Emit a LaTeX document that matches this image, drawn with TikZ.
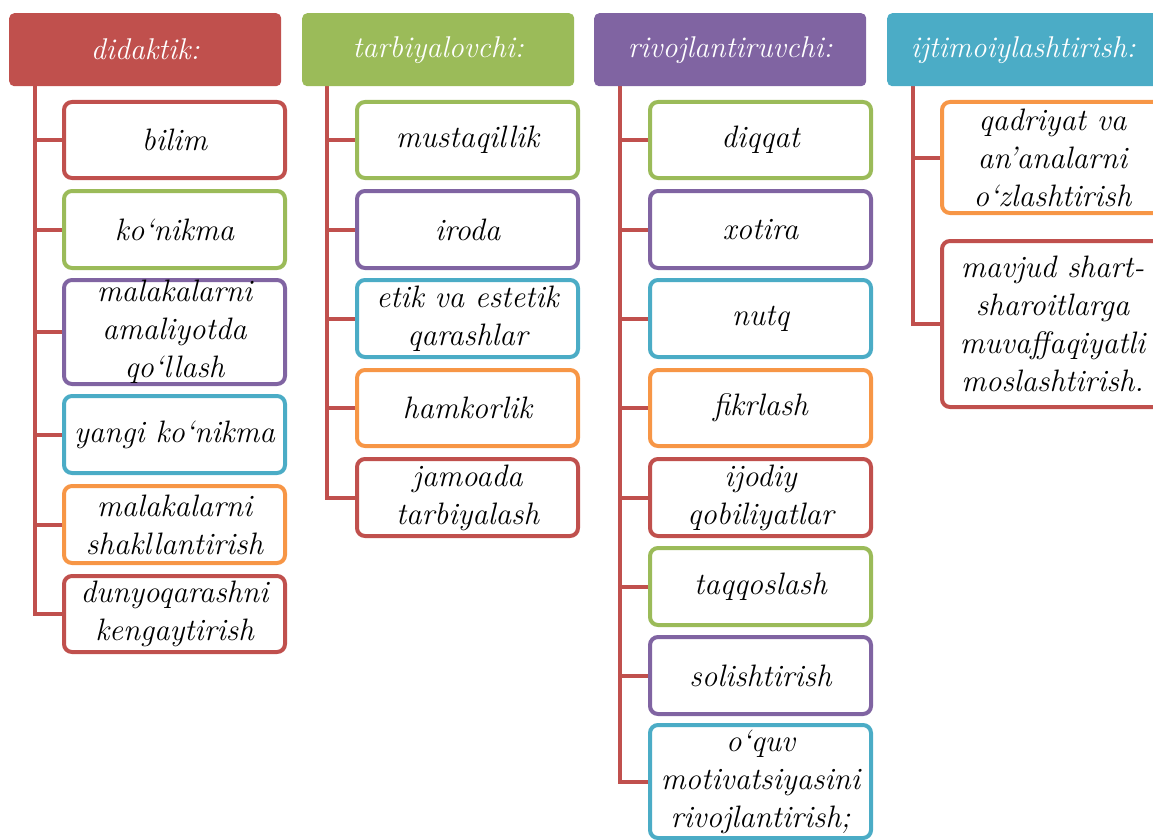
\documentclass[tikz,border=0pt]{standalone}
\usepackage{fontspec}
\usetikzlibrary{backgrounds}
\definecolor{cred}{HTML}{C0504D}
\definecolor{cgreen}{HTML}{9BBB59}
\definecolor{cpurple}{HTML}{8064A2}
\definecolor{caqua}{HTML}{4BACC6}
\definecolor{corange}{HTML}{F79646}
\begin{document}
\begin{tikzpicture}[x=1pt,y=-1pt,
  hdr/.style={fill=#1, rounded corners=5pt, text=white, font=\fontsize{30}{37}\selectfont\itshape,
    minimum width=272pt, minimum height=73pt, inner sep=0pt, anchor=north west},
  box/.style={draw=#1, line width=4pt, fill=white, rounded corners=8pt,
    font=\fontsize{31}{38}\selectfont\itshape, minimum width=221pt, inner sep=0pt,
    align=center, anchor=north west},
  conn/.style={draw=cred, line width=4pt}]
\useasboundingbox (0,0) rectangle (1153,840);
\clip (0,0) rectangle (1153,840);

% headers
\node[hdr=cred] (h1) at (9,13) {didaktik:};
\node[hdr=cgreen] (h2) at (302,13) {tarbiyalovchi:};
\node[hdr=cpurple] (h3) at (594,13) {rivojlantiruvchi:};
\node[hdr=caqua] (h4) at (887,13) {ijtimoiylashtirish:};

% connector tops
\coordinate (t1) at (35,86);
\coordinate (t2) at (327,86);
\coordinate (t3) at (620,86);
\coordinate (t4) at (913,86);

% column 1
\node[box=cred, minimum height=76pt] (a1) at (62,100) {bilim};
\node[box=cgreen, minimum height=77pt] (a2) at (62,189) {ko‘nikma};
\node[box=cpurple, minimum height=104pt] (a3) at (62,278) {malakalarni\\amaliyotda\\qo‘llash};
\node[box=caqua, minimum height=77pt] (a4) at (62,394) {yangi ko‘nikma};
\node[box=corange, minimum height=77pt] (a5) at (62,484) {malakalarni\\shakllantirish};
\node[box=cred, minimum height=76pt] (a6) at (62,574) {dunyoqarashni\\kengaytirish};

% column 2
\node[box=cgreen, minimum height=76pt] (b1) at (355,100) {mustaqillik};
\node[box=cpurple, minimum height=77pt] (b2) at (355,189) {iroda};
\node[box=caqua, minimum height=77pt] (b3) at (355,278) {etik va estetik\\qarashlar};
\node[box=corange, minimum height=76pt] (b4) at (355,368) {hamkorlik};
\node[box=cred, minimum height=77pt] (b5) at (355,457) {jamoada\\tarbiyalash};

% column 3
\node[box=cgreen, minimum height=76pt] (c1) at (648,100) {diqqat};
\node[box=cpurple, minimum height=77pt] (c2) at (648,189) {xotira};
\node[box=caqua, minimum height=77pt] (c3) at (648,278) {nutq};
\node[box=corange, minimum height=76pt] (c4) at (648,368) {fikrlash};
\node[box=cred, minimum height=77pt] (c5) at (648,457) {ijodiy\\qobiliyatlar};
\node[box=cgreen, minimum height=77pt] (c6) at (648,546) {taqqoslash};
\node[box=cpurple, minimum height=77pt] (c7) at (648,635) {solishtirish};
\node[box=caqua, minimum height=113pt] (c8) at (648,723) {o‘quv\\motivatsiyasini\\rivojlantirish;};

% column 4
\node[box=corange, minimum height=111pt] (d1) at (940,100) {qadriyat va\\an’analarni\\o‘zlashtirish};
\node[box=cred, minimum height=166pt] (d2) at (940,239) {mavjud shart-\\sharoitlarga\\muvaffaqiyatli\\moslashtirish.};

% connectors
\begin{scope}[on background layer]
\foreach \n in {a1,a2,a3,a4,a5} \draw[conn] (\n.west) -- (\n.west -| t1);
\draw[conn] (t1) |- (a6.west);
\foreach \n in {b1,b2,b3,b4} \draw[conn] (\n.west) -- (\n.west -| t2);
\draw[conn] (t2) |- (b5.west);
\foreach \n in {c1,c2,c3,c4,c5,c6,c7} \draw[conn] (\n.west) -- (\n.west -| t3);
\draw[conn] (t3) |- (c8.west);
\draw[conn] (d1.west) -- (d1.west -| t4);
\draw[conn] (t4) |- (d2.west);
\end{scope}
\end{tikzpicture}
\end{document}
